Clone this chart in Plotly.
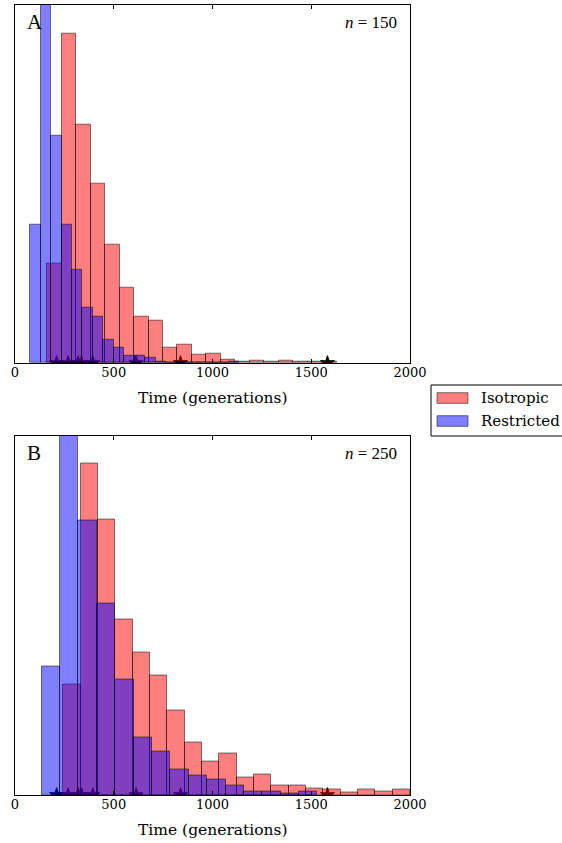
import numpy as np
import plotly.graph_objects as go

# ---------------- data ----------------
time_ticks = [0, 500, 1000, 1500, 2000]
star_times = [211, 269, 320, 337, 394, 613, 838, 1582]

# Panel A (n = 150): histogram bins (start, width) and bar heights
iso_A_start, iso_A_width = 163, 73.3
iso_A = [99.4, 329.4, 238.7, 179.4, 118.4, 75.2, 46.7, 42.7, 15.4, 18.0,
         8.7, 9.7, 3.7, 1.5, 2.3, 1.5, 2.3, 1.5, 1.5, 1.5]
res_A_start, res_A_width = 77, 52.9
res_A = [138.7, 400.0, 227.7, 138.7, 93.4, 55.4, 46.7, 23.4, 15.4, 7.7,
         7.7, 5.4, 1.5, 0.0, 1.5, 0.0, 0.0, 0.0, 0.0, 1.5]

# Panel B (n = 250)
iso_B_start, iso_B_width = 244, 87.8
iso_B = [110.7, 331.7, 275.7, 175.7, 143.0, 120.0, 84.3, 52.3, 34.0, 41.7,
         17.7, 21.0, 10.0, 10.0, 6.7, 5.7, 2.3, 5.7, 4.0, 5.7]
res_B_start, res_B_width = 135, 93.1
res_B = [129.0, 420.0, 275.0, 191.7, 116.0, 57.3, 44.0, 25.7, 20.0, 15.7,
         10.0, 4.0, 4.0, 1.5, 4.0]

panel_labels = ["A", "B"]
n_labels = ["150", "250"]
series_names = ["Isotropic", "Restricted"]
x_title = "Time (generations)"

# ---------------- style ----------------
W, H = 562, 843
SERIF = "DejaVu Serif"
ISO_FILL = "rgba(255,0,0,0.5)"
RES_FILL = "rgba(0,0,255,0.5)"
EDGE = "rgba(0,0,0,0.5)"


def px(x):
    return x / W


def py(y):
    return 1 - y / H


def centers(start, width, vals):
    return start + width * (np.arange(len(vals)) + 0.5)


fig = go.Figure()

panels = [
    dict(xa="x", ya="y", yo="y2", iso=(iso_A_start, iso_A_width, iso_A),
         res=(res_A_start, res_A_width, res_A)),
    dict(xa="x2", ya="y3", yo="y4", iso=(iso_B_start, iso_B_width, iso_B),
         res=(res_B_start, res_B_width, res_B)),
]

for p in panels:
    # stars underneath the bars (base subplot)
    fig.add_trace(go.Scatter(
        x=star_times, y=[0] * len(star_times), mode="markers",
        marker=dict(symbol="star", size=10.5, color="black",
                    line=dict(width=1, color="black")),
        xaxis=p["xa"], yaxis=p["ya"], showlegend=False, hoverinfo="skip"))
    for (start, width, vals), fill, name in [(p["iso"], ISO_FILL, series_names[0]),
                                             (p["res"], RES_FILL, series_names[1])]:
        fig.add_trace(go.Bar(
            x=centers(start, width, vals), y=vals, width=width,
            marker=dict(color=fill, line=dict(color=EDGE, width=1)),
            xaxis=p["xa"], yaxis=p["yo"], name=name, showlegend=False))

# geometry (pixels)
xl, xr = 15, 410
A_top, A_bot = 4.7, 363.0
B_top, B_bot = 435.5, 795.0

xcommon = dict(range=[0, 2000], tickvals=time_ticks, ticks="inside", ticklen=4,
               tickcolor="black", showline=True, linecolor="black", linewidth=1,
               mirror="ticks", showgrid=False, zeroline=False, automargin=False,
               ticklabelstandoff=-3,
               tickfont=dict(family=SERIF, size=13, color="black"),
               domain=[px(xl), px(xr)])
ycommon = dict(showticklabels=False, ticks="", showline=True, linecolor="black",
               linewidth=1, mirror=True, showgrid=False, zeroline=False, automargin=False)
yover = dict(showticklabels=False, ticks="", showline=False, showgrid=False,
             zeroline=False, automargin=False)

fig.update_layout(
    width=W, height=H, autosize=False,
    margin=dict(l=0, r=0, t=0, b=0, pad=0, autoexpand=False),
    paper_bgcolor="white", plot_bgcolor="white",
    barmode="overlay", bargap=0, showlegend=False,
    xaxis=dict(anchor="y", **xcommon),
    xaxis2=dict(anchor="y3", **xcommon),
    yaxis=dict(anchor="x", domain=[py(A_bot), py(A_top)], range=[0, A_bot - A_top], **ycommon),
    yaxis2=dict(anchor="x", overlaying="y", range=[0, A_bot - A_top], **yover),
    yaxis3=dict(anchor="x2", domain=[py(B_bot), py(B_top)], range=[0, B_bot - B_top], **ycommon),
    yaxis4=dict(anchor="x2", overlaying="y3", range=[0, B_bot - B_top], **yover),
)

ann = []
for lab, nlab, top, bot in [(panel_labels[0], n_labels[0], A_top, A_bot),
                            (panel_labels[1], n_labels[1], B_top, B_bot)]:
    ann.append(dict(text=lab, x=px(25), y=py(top + 17.5), xref="paper", yref="paper",
                    xanchor="left", yanchor="middle", showarrow=False,
                    font=dict(family="Liberation Serif", size=21, color="black")))
    ann.append(dict(text="<i>n</i> = " + nlab, x=px(399), y=py(top + 18), xref="paper",
                    yref="paper", xanchor="right", yanchor="middle", showarrow=False,
                    font=dict(family="Liberation Serif", size=17, color="black")))
    ann.append(dict(text=x_title, x=px((xl + xr) / 2), y=py(bot + 34.5), xref="paper",
                    yref="paper", xanchor="center", yanchor="middle", showarrow=False,
                    font=dict(family=SERIF, size=15.5, color="black")))

# custom legend
shapes = [dict(type="rect", xref="paper", yref="paper", x0=px(431), x1=px(575),
               y0=py(436), y1=py(385), line=dict(color="black", width=1),
               fillcolor="white")]
for i, (name, fill) in enumerate(zip(series_names, [ISO_FILL, RES_FILL])):
    yc = 398 + i * 23
    shapes.append(dict(type="rect", xref="paper", yref="paper", x0=px(437), x1=px(468),
                       y0=py(yc + 5.3), y1=py(yc - 5.3), fillcolor=fill,
                       line=dict(color=EDGE, width=1)))
    ann.append(dict(text=name, x=px(479), y=py(yc), xref="paper", yref="paper",
                    xanchor="left", yanchor="middle", showarrow=False,
                    font=dict(family=SERIF, size=15, color="black")))

fig.update_layout(annotations=ann, shapes=shapes)
fig.write_html("out.html")
